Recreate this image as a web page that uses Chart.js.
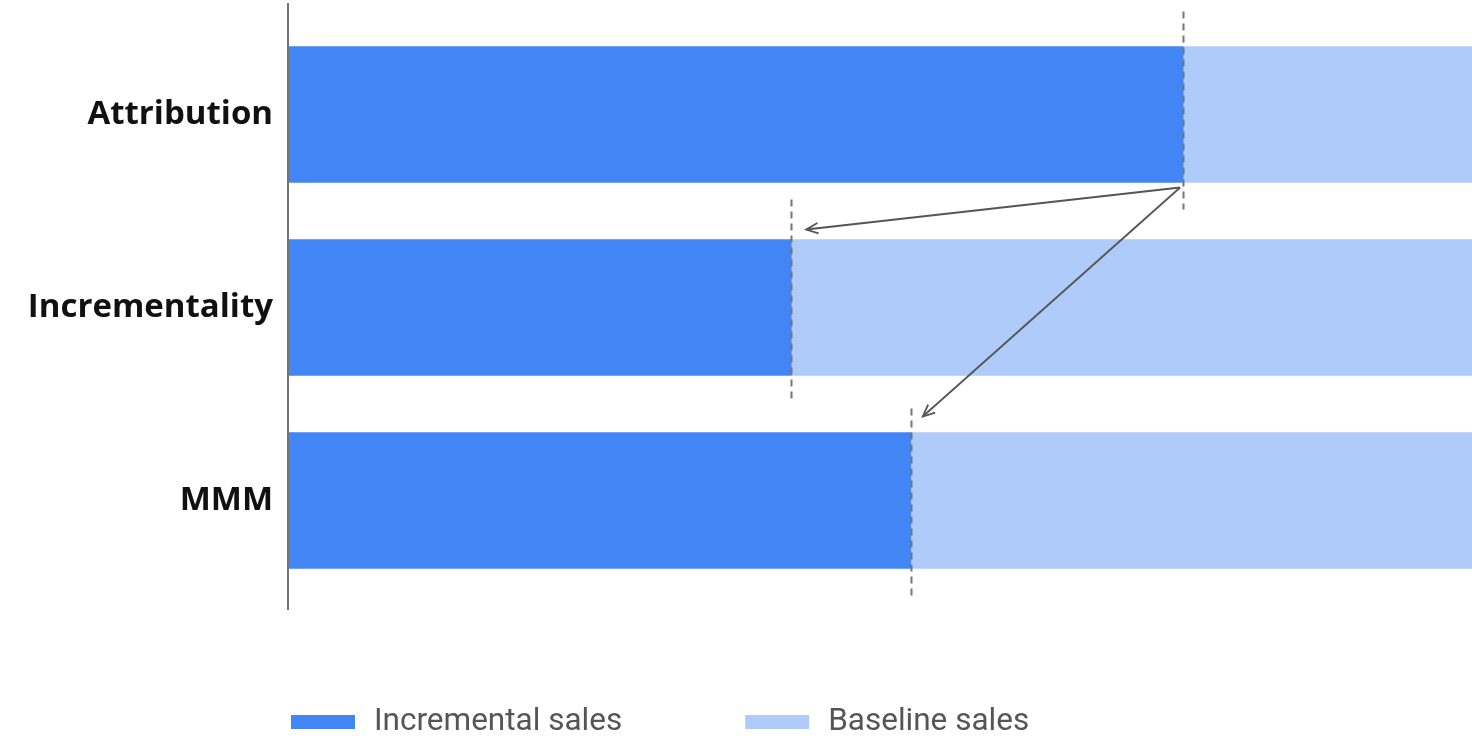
<!DOCTYPE html>
<html>
<head>
<meta charset="utf-8">
<script src="https://cdn.jsdelivr.net/npm/chart.js@4.4.1/dist/chart.umd.min.js"></script>
<style>
  html, body { margin: 0; padding: 0; background: #fff; }
  #wrap { width: 1472px; height: 740px; }
</style>
</head>
<body>
<div id="wrap"><canvas id="chart" width="1472" height="740"></canvas></div>
<script>
// data
const categories = ['Attribution', 'Incrementality', 'MMM'];
const incrementalSales = [75.6, 42.5, 52.6];
const baselineSales = [24.4, 57.5, 47.4];
const seriesNames = ['Incremental sales', 'Baseline sales'];
const seriesColors = ['#4285F4', '#AECBFA'];

// vertical dashed markers at the end of each incremental bar + arrows from Attribution
const markerPlugin = {
  id: 'markers',
  afterDatasetsDraw(chart) {
    const ctx = chart.ctx;
    const xs = chart.scales.x;
    const meta = chart.getDatasetMeta(0);
    const above = [35, 40, 24];
    const below = [27, 26, 30];

    ctx.save();
    // dashed lines
    ctx.strokeStyle = '#757575';
    ctx.lineWidth = 2;
    ctx.setLineDash([7, 5]);
    meta.data.forEach((bar, i) => {
      const x = Math.round(xs.getPixelForValue(incrementalSales[i])) + 0.5;
      const top = bar.y - bar.height / 2 - above[i];
      const bottom = bar.y + bar.height / 2 + below[i];
      ctx.beginPath();
      ctx.moveTo(x, top);
      ctx.lineTo(x, bottom);
      ctx.stroke();
    });
    ctx.setLineDash([]);

    // arrows
    const src = meta.data[0];
    const sx = xs.getPixelForValue(incrementalSales[0]) - 3;
    const sy = src.y + src.height / 2 + 5;
    const targets = [[1, 15, 10], [2, 12, 16]];
    ctx.strokeStyle = '#555';
    ctx.lineWidth = 1.8;
    targets.forEach(([i, dx, dy]) => {
      const b = meta.data[i];
      const tx = xs.getPixelForValue(incrementalSales[i]) + dx;
      const ty = b.y - b.height / 2 - dy;
      ctx.beginPath();
      ctx.moveTo(sx, sy);
      ctx.lineTo(tx, ty);
      ctx.stroke();
      const ang = Math.atan2(ty - sy, tx - sx);
      const len = 13, spread = 0.42;
      ctx.beginPath();
      ctx.moveTo(tx - len * Math.cos(ang - spread), ty - len * Math.sin(ang - spread));
      ctx.lineTo(tx, ty);
      ctx.lineTo(tx - len * Math.cos(ang + spread), ty - len * Math.sin(ang + spread));
      ctx.stroke();
    });

    // y axis line
    const area = chart.chartArea;
    ctx.strokeStyle = '#757575';
    ctx.lineWidth = 2;
    ctx.beginPath();
    ctx.moveTo(area.left, area.top - 15);
    ctx.lineTo(area.left, area.bottom + 13);
    ctx.stroke();
    ctx.restore();
  }
};

// legend drawn below the bars
const legendPlugin = {
  id: 'bottomLegend',
  afterDraw(chart) {
    const ctx = chart.ctx;
    let x = 291;
    const y = 722;
    ctx.save();
    ctx.font = '31.5px Roboto';
    ctx.textBaseline = 'middle';
    chart.data.datasets.forEach(ds => {
      ctx.fillStyle = ds.backgroundColor;
      ctx.fillRect(x, y - 7, 64, 14);
      ctx.fillStyle = '#555';
      ctx.fillText(ds.label, x + 83, y);
      x += 83 + ctx.measureText(ds.label).width + 123;
    });
    ctx.restore();
  }
};

new Chart(document.getElementById('chart'), {
  type: 'bar',
  data: {
    labels: categories,
    datasets: [
      { label: seriesNames[0], data: incrementalSales, backgroundColor: seriesColors[0], barThickness: 136 },
      { label: seriesNames[1], data: baselineSales, backgroundColor: seriesColors[1], barThickness: 136 }
    ]
  },
  options: {
    indexAxis: 'y',
    responsive: false,
    animation: false,
    layout: { padding: { top: 18, right: 0, bottom: 0, left: 0 } },
    plugins: {
      legend: { display: false },
      tooltip: { enabled: false }
    },
    scales: {
      x: {
        stacked: true,
        min: 0,
        max: 100,
        grid: { display: false },
        border: { display: false },
        ticks: { display: false },
        afterFit: s => { s.height = 143; }
      },
      y: {
        stacked: true,
        grid: { display: false },
        border: { display: false },
        ticks: {
          color: '#111',
          padding: 7,
          font: { family: 'Open Sans', size: 33, weight: 'bold' }
        },
        afterFit: s => {
          s.width = 288;
          s.paddingTop = 0;
          s.paddingBottom = 0;
        }
      }
    }
  },
  plugins: [markerPlugin, legendPlugin]
});
</script>
</body>
</html>
